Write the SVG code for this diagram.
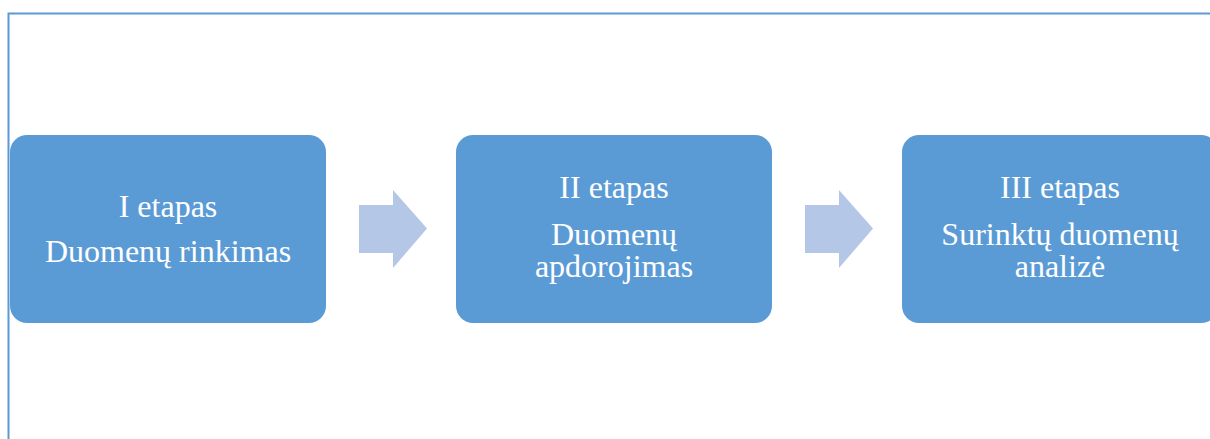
<svg xmlns="http://www.w3.org/2000/svg" width="1210" height="439" viewBox="0 0 1210 439">
<style>
.box{fill:#5B9BD5}
.arr{fill:#B4C7E7}
.t{font-family:"Liberation Serif","Times New Roman",serif;font-size:32px;fill:#FFFFFF;text-anchor:middle}
</style>
<rect x="0" y="0" width="1210" height="439" fill="#FFFFFF"/>
<path d="M8.5,439 V13.5 H1210" fill="none" stroke="#5B9BD5" stroke-width="2"/>
<g id="connectors">
<polygon class="arr" points="359,205 393,205 393,190 427,228.5 393,268 393,253 359,253"/>
<polygon class="arr" points="805,205 839,205 839,190 873,228.5 839,268 839,253 805,253"/>
</g>
<g id="node1">
<rect class="box" x="10" y="135" width="316" height="188" rx="17"/>
<text class="t" x="168" y="217">I etapas</text>
<text class="t" x="168" y="262">Duomenų rinkimas</text>
</g>
<g id="node2">
<rect class="box" x="456" y="135" width="316" height="188" rx="17"/>
<text class="t" x="614" y="198">II etapas</text>
<text class="t" x="614" y="245">Duomenų</text>
<text class="t" x="614" y="277">apdorojimas</text>
</g>
<g id="node3">
<rect class="box" x="902" y="135" width="316" height="188" rx="17"/>
<text class="t" x="1060" y="198">III etapas</text>
<text class="t" x="1060" y="245">Surinktų duomenų</text>
<text class="t" x="1060" y="277">analizė</text>
</g>
</svg>
